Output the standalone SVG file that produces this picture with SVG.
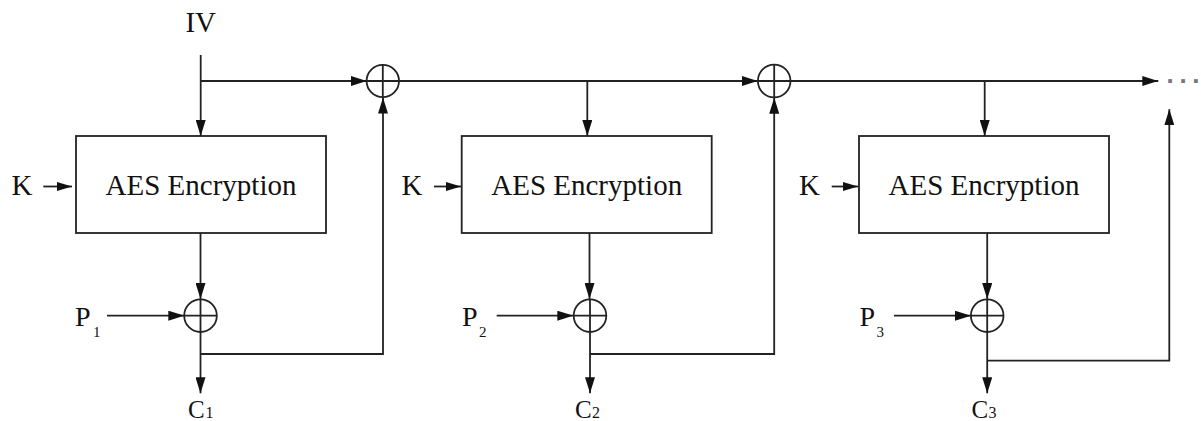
<svg xmlns="http://www.w3.org/2000/svg" width="1201" height="421" viewBox="0 0 1201 421">
<style>
.ln{fill:none;stroke:#222;stroke-width:1.8}
.box{fill:#fff;stroke:#222;stroke-width:1.8}
</style>
<defs>
<marker id="ah" markerUnits="userSpaceOnUse" markerWidth="16" markerHeight="10" refX="16" refY="5" orient="auto">
<path d="M0,0 L16,5 L0,10 Z" fill="#111"/>
</marker>
<marker id="ahs" markerUnits="userSpaceOnUse" markerWidth="15" markerHeight="9" refX="15" refY="4.5" orient="auto">
<path d="M0,0 L15,4.5 L0,9 Z" fill="#111"/>
</marker>
</defs>

<g id="connectors">
<path class="ln" d="M200.7,55 V136" marker-end="url(#ah)"/>
<path class="ln" d="M200.7,81 H366.7" marker-end="url(#ah)"/>
<path class="ln" d="M399,81 H757.7" marker-end="url(#ah)"/>
<path class="ln" d="M587.3,81 V136" marker-end="url(#ah)"/>
<path class="ln" d="M790.7,81 H1158.3" marker-end="url(#ah)"/>
<path class="ln" d="M984.7,81 V136" marker-end="url(#ah)"/>
<path class="ln" d="M43.3,186.5 H72" marker-end="url(#ahs)"/>
<path class="ln" d="M434,186.5 H461" marker-end="url(#ahs)"/>
<path class="ln" d="M831.7,186.5 H858" marker-end="url(#ahs)"/>
<path class="ln" d="M200.5,233 V299" marker-end="url(#ah)"/>
<path class="ln" d="M589.5,233 V299" marker-end="url(#ah)"/>
<path class="ln" d="M987.2,233 V299" marker-end="url(#ah)"/>
<path class="ln" d="M107,315.7 H184.3" marker-end="url(#ah)"/>
<path class="ln" d="M496.7,315.7 H573.3" marker-end="url(#ah)"/>
<path class="ln" d="M894,315.7 H971" marker-end="url(#ah)"/>
<path class="ln" d="M200.5,332.2 V393.3" marker-end="url(#ah)"/>
<path class="ln" d="M590,332.2 V393.3" marker-end="url(#ah)"/>
<path class="ln" d="M987.2,332.2 V393.3" marker-end="url(#ah)"/>
<path class="ln" d="M200.5,354 H383 V97.5" marker-end="url(#ah)"/>
<path class="ln" d="M590,354 H774.2 V97.7" marker-end="url(#ah)"/>
<path class="ln" d="M987.2,360.7 H1169.3 V109.3" marker-end="url(#ah)"/>
</g>

<g id="iv"><text font-family="Liberation Serif, Times New Roman, serif" font-size="29" fill="#111" x="200.7" y="32" text-anchor="middle">IV</text></g>

<g id="enc1">
<rect class="box" x="76" y="136" width="250" height="97"/>
<text font-family="Liberation Serif, Times New Roman, serif" font-size="29" fill="#111" x="201" y="195" text-anchor="middle">AES Encryption</text>
</g>
<g id="enc2">
<rect class="box" x="461.7" y="136" width="250" height="97"/>
<text font-family="Liberation Serif, Times New Roman, serif" font-size="29" fill="#111" x="586.7" y="195" text-anchor="middle">AES Encryption</text>
</g>
<g id="enc3">
<rect class="box" x="859" y="136" width="250" height="97"/>
<text font-family="Liberation Serif, Times New Roman, serif" font-size="29" fill="#111" x="984" y="195" text-anchor="middle">AES Encryption</text>
</g>

<g id="k1"><text font-family="Liberation Serif, Times New Roman, serif" font-size="29" fill="#111" x="11.5" y="195">K</text></g>
<g id="k2"><text font-family="Liberation Serif, Times New Roman, serif" font-size="29" fill="#111" x="401.5" y="195">K</text></g>
<g id="k3"><text font-family="Liberation Serif, Times New Roman, serif" font-size="29" fill="#111" x="799" y="195">K</text></g>

<g id="p1"><text font-family="Liberation Serif, Times New Roman, serif" font-size="28" fill="#111" x="75" y="326">P</text><text font-family="Liberation Serif, Times New Roman, serif" font-size="15" fill="#111" x="93" y="337">1</text></g>
<g id="p2"><text font-family="Liberation Serif, Times New Roman, serif" font-size="28" fill="#111" x="462" y="326">P</text><text font-family="Liberation Serif, Times New Roman, serif" font-size="15" fill="#111" x="479" y="337">2</text></g>
<g id="p3"><text font-family="Liberation Serif, Times New Roman, serif" font-size="28" fill="#111" x="859.5" y="326">P</text><text font-family="Liberation Serif, Times New Roman, serif" font-size="15" fill="#111" x="876.5" y="337">3</text></g>

<g id="c1"><text font-family="Liberation Serif, Times New Roman, serif" font-size="25" fill="#111" x="188" y="417.5">C</text><text font-family="Liberation Serif, Times New Roman, serif" font-size="16" fill="#111" x="205.5" y="417.5">1</text></g>
<g id="c2"><text font-family="Liberation Serif, Times New Roman, serif" font-size="25" fill="#111" x="575" y="417.5">C</text><text font-family="Liberation Serif, Times New Roman, serif" font-size="16" fill="#111" x="592" y="417.5">2</text></g>
<g id="c3"><text font-family="Liberation Serif, Times New Roman, serif" font-size="25" fill="#111" x="971.5" y="417.5">C</text><text font-family="Liberation Serif, Times New Roman, serif" font-size="16" fill="#111" x="988.5" y="417.5">3</text></g>

<g id="xor-top1"><circle class="ln" cx="382.8" cy="81" r="16.2"/><path class="ln" d="M366.6,81 H399 M382.8,64.8 V97.2"/></g>
<g id="xor-top2"><circle class="ln" cx="774.2" cy="81" r="16.3"/><path class="ln" d="M757.9,81 H790.5 M774.2,64.7 V97.3"/></g>
<g id="xor1"><circle class="ln" cx="200.5" cy="315.7" r="16.3"/><path class="ln" d="M184.2,315.7 H216.8 M200.5,299.4 V332"/></g>
<g id="xor2"><circle class="ln" cx="590" cy="315.7" r="16.3"/><path class="ln" d="M573.7,315.7 H606.3 M590,299.4 V332"/></g>
<g id="xor3"><circle class="ln" cx="987.2" cy="315.7" r="16.3"/><path class="ln" d="M970.9,315.7 H1003.5 M987.2,299.4 V332"/></g>

<g id="ellipsis"><text x="1166.5 1179.5 1192.2" y="83" font-family="Liberation Sans, Arial, sans-serif" font-weight="bold" font-size="26" fill="#777">...</text></g>
</svg>
